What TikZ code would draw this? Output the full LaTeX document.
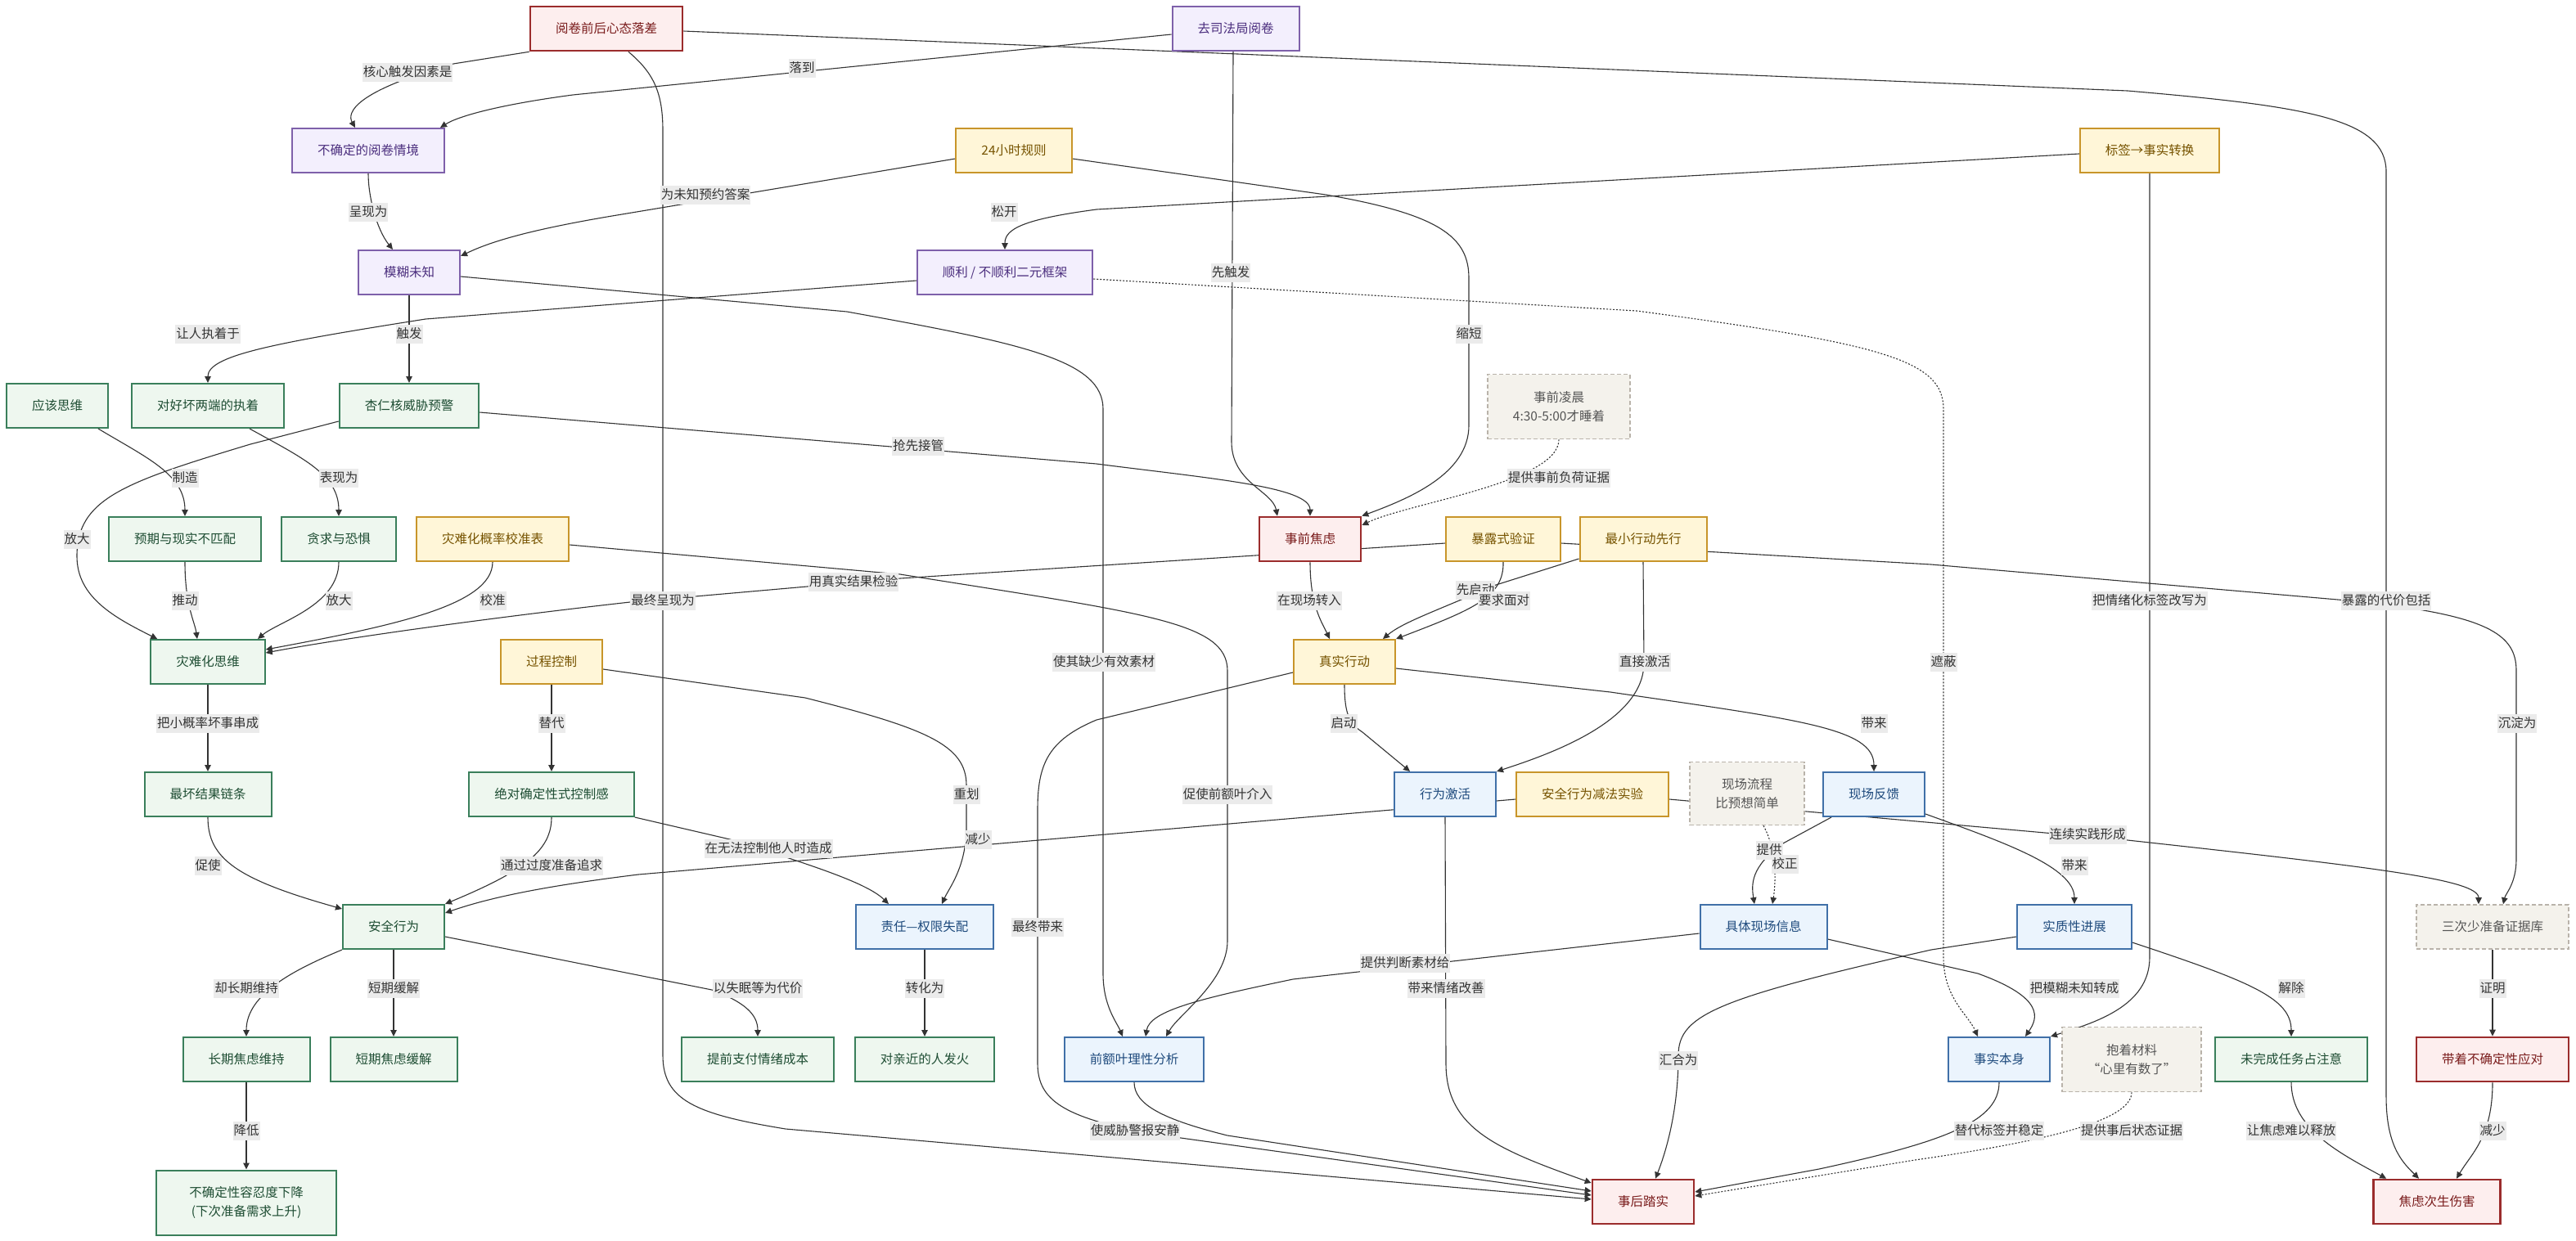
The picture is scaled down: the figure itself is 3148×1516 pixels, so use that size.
\documentclass[tikz,border=0pt]{standalone}
\usepackage{fontspec}
\setmainfont{Noto Sans CJK SC}
\usetikzlibrary{arrows.meta}
\pgfdeclarelayer{bg}
\pgfsetlayers{bg,main}
\definecolor{hotfill}{HTML}{FDEEEE}
\definecolor{hotline}{HTML}{9B2C2C}
\definecolor{hottext}{HTML}{7A1C1C}
\definecolor{purfill}{HTML}{F3EFFD}
\definecolor{purline}{HTML}{7E60AA}
\definecolor{purtext}{HTML}{4B2E7E}
\definecolor{golfill}{HTML}{FFF6D8}
\definecolor{golline}{HTML}{C8952A}
\definecolor{goltext}{HTML}{765300}
\definecolor{grnfill}{HTML}{EEF7EF}
\definecolor{grnline}{HTML}{3A7F5B}
\definecolor{grntext}{HTML}{1E4D33}
\definecolor{blufill}{HTML}{EBF4FD}
\definecolor{bluline}{HTML}{4070A8}
\definecolor{blutext}{HTML}{1F4B7D}
\definecolor{memfill}{HTML}{F4F2EC}
\definecolor{memline}{HTML}{B9B3AA}
\definecolor{memtext}{HTML}{555555}
\definecolor{lblfill}{HTML}{EBEBEB}
\definecolor{inkc}{HTML}{333333}
\newcommand{\fsz}{\fontsize{15.5pt}{23.5pt}\selectfont}

\begin{document}
\begin{tikzpicture}[x=1pt,y=-1pt,
		box/.style={draw,rectangle,inner xsep=31pt,inner ysep=0pt,minimum height=54pt,font=\fsz,align=center},
		hot/.style={box,fill=hotfill,draw=hotline,text=hottext,line width=2.6pt},
		purp/.style={box,fill=purfill,draw=purline,text=purtext,line width=2pt},
		gold/.style={box,fill=golfill,draw=golline,text=goltext,line width=2pt},
		grn/.style={box,fill=grnfill,draw=grnline,text=grntext,line width=2pt},
		blu/.style={box,fill=blufill,draw=bluline,text=blutext,line width=2pt},
		pnote/.style={box,fill=memfill,draw=memline,text=memtext,line width=1.6pt,dash pattern=on 5pt off 3pt},
		lbl/.style={fill=lblfill,text=inkc,font=\fsz,inner xsep=1pt,inner ysep=0pt,minimum height=23pt},
		link/.style={draw=inkc,line width=1.1pt,->},
		dlink/.style={link,dash pattern=on 2pt off 2pt},
		>={Triangle[length=8pt,width=7.5pt]}]
	\useasboundingbox (0,0) rectangle (3148,1516);
	%% define nodes
	\node[hot]  (A0)  at (741,35)    {阅卷前后心态落差};
	\node[purp] (J)   at (1510,35)   {去司法局阅卷};
	\node[purp] (U)   at (450,184)   {不确定的阅卷情境};
	\node[gold] (R24) at (1239,184)  {24小时规则};
	\node[gold] (L)   at (2627,184)  {标签→事实转换};
	\node[purp] (M)   at (500,333)   {模糊未知};
	\node[purp] (B)   at (1228,333)  {顺利 / 不顺利二元框架};
	\node[grn]  (S)   at (70,496)    {应该思维};
	\node[grn]  (D)   at (254,496)   {对好坏两端的执着};
	\node[grn]  (X)   at (500,496)   {杏仁核威胁预警};
	\node[pnote,minimum height=79pt] (N1) at (1905,497) {事前凌晨\\4:30-5:00才睡着};
	\node[grn]  (E)   at (226,659)   {预期与现实不匹配};
	\node[grn]  (G)   at (414,659)   {贪求与恐惧};
	\node[gold] (C)   at (602,659)   {灾难化概率校准表};
	\node[hot]  (PA)  at (1601,659)  {事前焦虑};
	\node[gold] (EV)  at (1837,659)  {暴露式验证};
	\node[gold] (MA)  at (2008,659)  {最小行动先行};
	\node[grn]  (K)   at (254,809)   {灾难化思维};
	\node[gold] (P)   at (674,809)   {过程控制};
	\node[gold] (act) at (1643,809)  {真实行动};
	\node[grn]  (W)   at (254,971)   {最坏结果链条};
	\node[grn]  (Q)   at (674,971)   {绝对确定性式控制感};
	\node[blu]  (BA)  at (1766,971)  {行为激活};
	\node[gold] (SE)  at (1946,971)  {安全行为减法实验};
	\node[pnote,minimum height=77pt] (N2) at (2135,970) {现场流程\\比预想简单};
	\node[blu]  (FB)  at (2290,971)  {现场反馈};
	\node[grn]  (SB)  at (481,1133)  {安全行为};
	\node[blu]  (RA)  at (1130,1133) {责任—权限失配};
	\node[blu]  (CI)  at (2155,1133) {具体现场信息};
	\node[blu]  (SP)  at (2535,1133) {实质性进展};
	\node[pnote] (EB) at (3046,1133) {三次少准备证据库};
	\node[grn]  (LT)  at (301,1295)  {长期焦虑维持};
	\node[grn]  (ST)  at (481,1295)  {短期焦虑缓解};
	\node[grn]  (PE)  at (926,1295)  {提前支付情绪成本};
	\node[grn]  (F)   at (1130,1295) {对亲近的人发火};
	\node[blu]  (PF)  at (1386,1295) {前额叶理性分析};
	\node[blu]  (FI)  at (2443,1295) {事实本身};
	\node[pnote,minimum height=79pt] (N3) at (2605,1295) {抱着材料\\“心里有数了”};
	\node[grn]  (UT)  at (2800,1295) {未完成任务占注意};
	\node[hot]  (CU)  at (3046,1295) {带着不确定性应对};
	\node[grn,minimum height=79pt,minimum width=220pt] (TD) at (301,1470) {不确定性容忍度下降\\(下次准备需求上升)};
	\node[hot]  (AF)  at (2008,1469) {事后踏实};
	\node[hot]  (SH)  at (2978,1469) {焦虑次生伤害};
	%% define arrows
	\begin{pgfonlayer}{bg}
	\fill[white] (0,0) rectangle (3148,1516);
	\draw[link] (A0.south west) -- (554,78) .. controls (432,112) and (424,138) .. ([xshift=-16pt]U.north);
	\draw[link] ([yshift=-7pt]J.west) -- (700,116) .. controls (610,128) and (560,142) .. ([xshift=88pt]U.north);
	\draw[link] ([xshift=27pt]A0.south) .. controls (800,90) and (810,115) .. (810,160) -- (810,1290) .. controls (810,1345) and (850,1362) .. (960,1380) -- ([yshift=3pt]AF.west);
	\draw[link] ([yshift=-3pt]A0.east) -- (2600,111) .. controls (2820,130) and (2916,145) .. (2916,210) -- (2916,1340) .. controls (2916,1400) and (2935,1420) .. ([xshift=-22pt]SH.north);
	\draw[link] ([xshift=-3pt]J.south) -- (1505,540) .. controls (1505,590) and (1555,600) .. ([xshift=-40pt]PA.north);
	\draw[link] ([yshift=-10pt]R24.east) -- (1620,238) .. controls (1760,262) and (1795,290) .. (1795,340) -- (1795,520) .. controls (1795,580) and (1720,610) .. (PA.north east);
	\draw[link] ([yshift=-10pt]R24.west) -- (760,262) .. controls (650,280) and (600,295) .. ([yshift=20pt]M.east);
	\draw[link] ([yshift=-4pt]L.west) -- (1340,256) .. controls (1250,268) and (1228,280) .. (B.north);
	\draw[link] (L.south) -- (2627,1170) .. controls (2627,1230) and (2560,1250) .. (FI.north east);
	\draw[dlink] ([yshift=-8pt]B.east) -- (2000,380) .. controls (2300,420) and (2375,440) .. (2375,500) -- (2375,1170) .. controls (2375,1220) and (2405,1240) .. ([xshift=-26pt]FI.north);
	\draw[link] (M.south) -- (X.north);
	\draw[link] ([yshift=-10pt]B.west) -- (520,390) .. controls (330,420) and (254,435) .. (D.north);
	\draw[link] ([yshift=-5pt]M.east) -- (1035,381) .. controls (1250,420) and (1348,440) .. (1348,500) -- (1348,1190) .. controls (1348,1230) and (1365,1250) .. ([xshift=-14pt]PF.north);
	\draw[link] (U.south) .. controls (450,240) and (460,280) .. ([xshift=-20pt]M.north);
	\draw[link] ([yshift=-8pt]X.east) -- (1340,567) .. controls (1480,585) and (1601,595) .. (PA.north);
	\draw[link] ([yshift=-19pt]X.west) -- (306,543) .. controls (150,590) and (94,610) .. (94,680) .. controls (94,730) and (140,755) .. ([xshift=9pt]K.north west);
	\draw[link] ([xshift=50pt]S.south) .. controls (180,560) and (226,580) .. (E.north);
	\draw[link] ([xshift=51pt]D.south) .. controls (370,560) and (414,580) .. (G.north);
	\draw[link] (E.south) .. controls (226,740) and (238,760) .. ([xshift=-13pt]K.north);
	\draw[link] (G.south) .. controls (414,740) and (340,760) .. ([xshift=61pt]K.north);
	\draw[link] (C.south) .. controls (602,740) and (480,765) .. ([yshift=15pt]K.east);
	\draw[link] ([yshift=-5pt]EV.west) -- (1100,707) -- (770,736) .. controls (600,755) and (420,780) .. ([yshift=11pt]K.east);
	\draw[link] (PA.south) .. controls (1601,740) and (1615,760) .. ([xshift=-18pt]act.north);
	\draw[link] (EV.south) .. controls (1838,730) and (1800,745) .. ([xshift=63pt]act.north);
	\draw[link] ([yshift=-24pt]MA.west) -- (1825,716) .. controls (1760,745) and (1715,760) .. ([xshift=47pt]act.north);
	\draw[link] (MA.south) -- (2009,810) .. controls (2009,880) and (1900,920) .. (BA.north east);
	\draw[link] ([yshift=-5pt]EV.east) -- (2360,690) -- (2880,735) .. controls (3040,752) and (3075,775) .. (3075,820) -- (3075,1050) .. controls (3075,1080) and (3062,1092) .. ([xshift=13pt]EB.north);
	\draw[dlink] (N1.south) .. controls (1905,590) and (1720,615) .. ([yshift=17pt]PA.east);
	\draw[link] (K.south) -- (W.north);
	\draw[link] (P.south) -- (Q.north);
	\draw[link] ([yshift=-9pt]P.east) -- (984,853) .. controls (1130,890) and (1181,910) .. (1181,960) -- (1181,1010) .. controls (1181,1060) and (1160,1085) .. ([xshift=21pt]RA.north);
	\draw[link] ([yshift=-7pt]C.east) -- (1100,702) .. controls (1400,750) and (1500,760) .. (1500,820) -- (1500,1150) .. controls (1500,1200) and (1440,1240) .. ([xshift=39pt]PF.north);
	\draw[link] (act.south) .. controls (1643,875) and (1650,885) .. (1665,895) -- ([xshift=-43pt]BA.north);
	\draw[link] ([yshift=-8pt]act.east) -- (1968,846) .. controls (2200,880) and (2290,890) .. (FB.north);
	\draw[link] ([yshift=-13pt]act.west) -- (1340,880) .. controls (1280,905) and (1268,935) .. (1268,990) -- (1268,1300) .. controls (1268,1345) and (1300,1365) .. (1400,1385) -- ([yshift=8pt]AF.west);
	\draw[link] (PF.south) .. controls (1386,1350) and (1420,1368) .. (1500,1388) -- ([yshift=13pt]AF.west);
	\draw[link] ([xshift=-52pt]FB.south) -- (2177,1032) .. controls (2140,1060) and (2140,1080) .. ([xshift=-11pt]CI.north);
	\draw[dlink] ([xshift=20pt]N2.south) .. controls (2172,1040) and (2170,1080) .. ([xshift=11pt]CI.north);
	\draw[link] ([yshift=-24pt]FB.east) .. controls (2450,1030) and (2535,1060) .. (SP.north);
	\draw[link] ([yshift=-6pt]SE.east) -- (2600,1027) .. controls (2900,1060) and (3029,1075) .. ([xshift=-17pt]EB.north);
	\draw[link] ([yshift=-6pt]SE.west) -- (780,1069) .. controls (650,1085) and (590,1100) .. ([yshift=17pt]SB.east);
	\draw[link] (Q.south east) -- (892,1026) .. controls (1000,1060) and (1060,1080) .. ([xshift=-44pt]RA.north);
	\draw[link] (Q.south) .. controls (674,1040) and (640,1065) .. (SB.north east);
	\draw[link] (W.south) .. controls (254,1050) and (290,1075) .. ([yshift=22pt]SB.west);
	\draw[link] (SB.south west) .. controls (360,1185) and (301,1215) .. (LT.north);
	\draw[link] (SB.south) -- (ST.north);
	\draw[link] ([yshift=-12pt]SB.east) -- (870,1210) .. controls (910,1225) and (926,1240) .. (PE.north);
	\draw[link] (RA.south) -- (F.north);
	\draw[link] (LT.south) -- (TD.north);
	\draw[link] (BA.south) -- (1767,1300) .. controls (1767,1380) and (1830,1405) .. ([yshift=23pt]AF.west);
	\draw[link] ([yshift=-19pt]SP.east) .. controls (2750,1200) and (2800,1220) .. (UT.north);
	\draw[link] ([yshift=-12pt]SP.west) -- (2360,1161) .. controls (2100,1220) and (2051,1240) .. (2051,1290) .. controls (2051,1360) and (2035,1410) .. ([xshift=15pt]AF.north);
	\draw[link] ([yshift=-8pt]CI.west) -- (1580,1197) .. controls (1470,1220) and (1405,1235) .. ([xshift=14pt]PF.north);
	\draw[link] ([yshift=-15pt]CI.east) -- (2417,1190) .. controls (2500,1220) and (2490,1245) .. ([xshift=32pt]FI.north);
	\draw[link] (FI.south) .. controls (2443,1370) and (2380,1395) .. (2223,1429) -- ([yshift=12pt]AF.east);
	\draw[dlink] (N3.south) .. controls (2605,1370) and (2500,1395) .. (2340,1418) -- ([yshift=7pt]AF.east);
	\draw[link] (EB.south) -- (CU.north);
	\draw[link] (UT.south) .. controls (2800,1380) and (2860,1410) .. ([xshift=17pt]SH.north west);
	\draw[link] (CU.south) .. controls (3046,1390) and (3020,1410) .. ([xshift=24pt]SH.north);
	\end{pgfonlayer}
	%% define labels
	\node[lbl] (t1)  at (498,88)    {核心触发因素是};
	\node[lbl] (t2)  at (980,83)    {落到};
	\node[lbl] (t3)  at (450,259)   {呈现为};
	\node[lbl] (t4)  at (862,238)   {为未知预约答案};
	\node[lbl] (t5)  at (1227,259)  {松开};
	\node[lbl] (t6)  at (1504,333)  {先触发};
	\node[lbl] (t7)  at (254,408)   {让人执着于};
	\node[lbl] (t8)  at (500,408)   {触发};
	\node[lbl] (t9)  at (1795,408)  {缩短};
	\node[lbl] (t10) at (1122,545)  {抢先接管};
	\node[lbl] (t11) at (1905,584)  {提供事前负荷证据};
	\node[lbl] (t12) at (226,584)   {制造};
	\node[lbl] (t13) at (414,584)   {表现为};
	\node[lbl] (t14) at (94,659)    {放大};
	\node[lbl] (t15) at (226,734)   {推动};
	\node[lbl] (t16) at (414,734)   {放大};
	\node[lbl] (t17) at (602,734)   {校准};
	\node[lbl] (t18) at (810,734)   {最终呈现为};
	\node[lbl] (t19) at (1043,711)  {用真实结果检验};
	\node[lbl] (t20) at (1600,734)  {在现场转入};
	\node[lbl] (t21) at (1803,721)  {先启动};
	\node[lbl] (t22) at (1838,734)  {要求面对};
	\node[lbl] (t23) at (2627,734)  {把情绪化标签改写为};
	\node[lbl] (t24) at (2916,734)  {暴露的代价包括};
	\node[lbl] (t25) at (1349,809)  {使其缺少有效素材};
	\node[lbl] (t26) at (2010,809)  {直接激活};
	\node[lbl] (t27) at (2375,809)  {遮蔽};
	\node[lbl] (t28) at (254,884)   {把小概率坏事串成};
	\node[lbl] (t29) at (674,884)   {替代};
	\node[lbl] (t30) at (1642,884)  {启动};
	\node[lbl] (t31) at (2290,884)  {带来};
	\node[lbl] (t32) at (3076,884)  {沉淀为};
	\node[lbl] (t33) at (1181,971)  {重划};
	\node[lbl] (t34) at (1500,971)  {促使前额叶介入};
	\node[lbl] (t35) at (2551,1020) {连续实践形成};
	\node[lbl] (t36) at (1195,1026) {减少};
	\node[lbl] (t37) at (939,1037)  {在无法控制他人时造成};
	\node[lbl] (t38) at (2162,1039) {提供};
	\node[lbl] (t39) at (2181,1056) {校正};
	\node[lbl] (t40) at (2535,1058) {带来};
	\node[lbl] (t41) at (254,1058)  {促使};
	\node[lbl] (t42) at (674,1058)  {通过过度准备追求};
	\node[lbl] (t43) at (1268,1133) {最终带来};
	\node[lbl] (t44) at (1717,1177) {提供判断素材给};
	\node[lbl] (t45) at (301,1208)  {却长期维持};
	\node[lbl] (t46) at (481,1208)  {短期缓解};
	\node[lbl] (t47) at (926,1208)  {以失眠等为代价};
	\node[lbl] (t48) at (1130,1208) {转化为};
	\node[lbl] (t49) at (1767,1208) {带来情绪改善};
	\node[lbl] (t50) at (2535,1208) {把模糊未知转成};
	\node[lbl] (t51) at (2800,1208) {解除};
	\node[lbl] (t52) at (3046,1208) {证明};
	\node[lbl] (t53) at (2051,1296) {汇合为};
	\node[lbl] (t54) at (301,1382)  {降低};
	\node[lbl] (t55) at (1387,1382) {使威胁警报安静};
	\node[lbl] (t56) at (2443,1382) {替代标签并稳定};
	\node[lbl] (t57) at (2605,1382) {提供事后状态证据};
	\node[lbl] (t58) at (2800,1382) {让焦虑难以释放};
	\node[lbl] (t59) at (3046,1382) {减少};
\end{tikzpicture}
\end{document}
